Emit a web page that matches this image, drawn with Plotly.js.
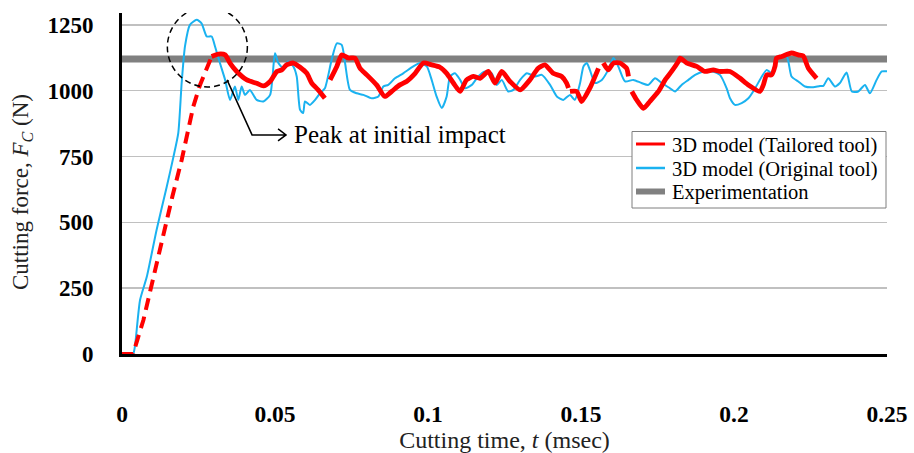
<!DOCTYPE html>
<html><head><meta charset="utf-8">
<script src="https://cdn.plot.ly/plotly-3.0.1.min.js"></script>
<style>html,body{margin:0;padding:0;background:#fff}#chart{width:914px;height:453px}</style>
</head><body><div id="chart"></div>
<script>
// Tailored tool: initial ramp (dashed)
const rampTime  = [0, 0.0036, 0.0070, 0.0108, 0.0135, 0.0165, 0.0195, 0.0233, 0.0255, 0.0282, 0.0293];
const rampForce = [0, 0, 129, 319, 460, 600, 737, 940, 1022, 1105, 1130];

// Tailored tool: solid part (null = gap)
const tailoredTime = [0.0293,0.0315,0.0337,0.0353,0.0375,0.0408,0.0440,0.0462,0.0484,0.0506,0.0522,0.0538,0.0560,0.0582,0.0604,0.0620,0.0641,0.0663,0.0670,
  0.0680,0.0702,0.0718,0.0740,0.0761,0.0778,0.0800,0.0832,0.0859,0.0881,0.0908,0.0930,0.0958,0.0985,0.1012,0.1039,0.1061,0.1083,0.1105,0.1126,0.1148,0.1170,0.1197,0.1219,0.1241,0.1268,0.1301,0.1333,0.1360,0.1382,0.1409,0.1437,0.1453,0.1459,0.1462,
  0.1464,0.1486,0.1502,0.1529,0.1557,0.1565,
  0.1573,0.1589,0.1606,0.1627,0.1649,0.1655,0.1660,
  0.1666,0.1682,0.1704,0.1725,0.1753,0.1775,0.1796,0.1818,0.1824,0.1846,0.1878,0.1905,0.1932,0.1954,0.1987,0.2020,0.2047,0.2085,0.2096,0.2107,0.2123,0.2134,0.2139,0.2156,0.2188,0.2210,0.2226,0.2243,0.2270];
const tailoredForce = [1130,1139,1136,1105,1073,1041,1028,1018,1035,1073,1079,1098,1105,1089,1066,1029,1003,971,null,
  1041,1092,1136,1124,1124,1085,1060,1022,978,997,1022,1035,1066,1105,1098,1089,1066,1029,997,1041,1054,1047,1073,1029,1073,1035,1003,1041,1085,1098,1066,1054,1029,1010,null,
  997,997,959,1010,1085,null,
  1105,1079,1105,1105,1085,1054,null,
  997,965,933,959,997,1041,1073,1111,1124,1105,1092,1073,1079,1073,1073,1047,1022,997,1022,1060,1060,1092,1124,1130,1143,1136,1132,1085,1047];

// Original tool
const originalTime = [0,0.0036,0.0042,0.0059,0.0081,0.0113,0.0146,0.0168,0.0184,0.0195,0.0206,0.0222,0.0244,0.0260,0.0277,0.0293,0.0304,0.0320,0.0337,0.0353,0.0369,0.0380,0.0391,0.0402,0.0418,0.0440,0.0462,0.0484,0.0500,0.0511,0.0527,0.0543,0.0560,0.0571,0.0582,0.0592,0.0598,0.0614,0.0631,0.0647,0.0663,0.0685,0.0702,0.0718,0.0729,0.0745,0.0767,0.0789,0.0816,0.0838,0.0854,0.0870,0.0892,0.0919,0.0952,0.0974,0.0996,0.1012,0.1028,0.1045,0.1061,0.1072,0.1088,0.1105,0.1121,0.1143,0.1164,0.1186,0.1208,0.1225,0.1241,0.1262,0.1279,0.1301,0.1323,0.1350,0.1372,0.1399,0.1421,0.1442,0.1464,0.1480,0.1497,0.1508,0.1519,0.1529,0.1546,0.1568,0.1589,0.1606,0.1622,0.1644,0.1671,0.1698,0.1720,0.1742,0.1764,0.1791,0.1807,0.1829,0.1851,0.1873,0.1900,0.1927,0.1954,0.1976,0.1987,0.2003,0.2025,0.2047,0.2069,0.2091,0.2107,0.2123,0.2140,0.2172,0.2188,0.2210,0.2232,0.2259,0.2281,0.2292,0.2308,0.2330,0.2346,0.2368,0.2385,0.2406,0.2428,0.2444,0.2466,0.2483,0.2504];
const originalForce = [0,0,27,205,293,471,634,748,840,1030,1170,1250,1269,1256,1206,1206,1168,1105,1041,965,1016,965,1016,984,1003,965,959,984,1142,1105,1085,1111,1092,1054,927,915,959,946,965,990,1009,1117,1180,1174,1105,1003,990,984,971,978,1016,1022,1047,1066,1092,1105,1092,1041,978,934,978,1054,1066,1041,1009,1022,1054,1073,1066,1022,1041,997,1003,1041,1066,1054,1060,1022,978,965,984,965,1029,1092,1105,1079,1029,1041,1079,1124,1092,1035,1041,1029,1022,1047,1029,1009,997,1022,1041,1060,1073,1073,1060,1009,971,946,953,971,1009,1054,1079,1066,1124,1130,1054,1035,1016,1013,1018,1018,1047,1016,1029,1069,997,997,1022,990,1041,1073,1073];

// Experimentation
const expTime  = [0, 0.25];
const expForce = [1120, 1120];

const seriesNames = ['3D model (Tailored tool)', '3D model (Original tool)', 'Experimentation'];
const xTickVals = [0, 0.05, 0.1, 0.15, 0.2, 0.25];
const xTickText = ['0', '0.05', '0.1', '0.15', '0.2', '0.25'];
const yTickVals = [0, 250, 500, 750, 1000, 1250];
const yTickText = ['0', '250', '500', '750', '1000', '1250'];

const serif = '"Liberation Serif", "Times New Roman", Times, serif';
const RED = '#FF0000', BLUE = '#1AB2F0', GRAY = '#808080';

const traces = [
  {x: expTime, y: expForce, mode: 'lines', name: seriesNames[2], showlegend: false,
   line: {color: GRAY, width: 7}},
  {x: originalTime, y: originalForce, mode: 'lines', name: seriesNames[1], showlegend: false,
   line: {color: BLUE, width: 2, shape: 'spline', smoothing: 0.6}},
  {x: rampTime, y: rampForce, mode: 'lines', name: seriesNames[0], showlegend: false,
   line: {color: RED, width: 4, dash: '12px,7px'}},
  {x: tailoredTime, y: tailoredForce, mode: 'lines', name: seriesNames[0], showlegend: false,
   connectgaps: false, line: {color: RED, width: 4.8, shape: 'spline', smoothing: 0.6}}
];

// legend box (drawn manually to match the compact row spacing)
const W = 765, H = 341, L = 122, T = 13;
const px = v => (v - L) / W;
const py = v => (T + H - v) / H;
const legendRows = [144, 168, 191.5];
const legendColors = [RED, BLUE, GRAY];
const legendWidths = [3, 2.5, 6];

const shapes = [
  {type: 'circle', xref: 'x', yref: 'y', xsizemode: 'pixel', ysizemode: 'pixel',
   xanchor: 0.0279, yanchor: 1166, x0: -40, x1: 40, y0: -40, y1: 40,
   line: {color: '#000', width: 1.5, dash: '6px,4px'}},
  {type: 'path', xref: 'x', yref: 'y', xsizemode: 'pixel', ysizemode: 'pixel',
   xanchor: 0.0425, yanchor: 832,
   path: 'M-25,55 L0,0 L34,0 M26,6 L34,0 L26,-6',
   line: {color: '#000', width: 1.5}},
  {type: 'rect', xref: 'paper', yref: 'paper', x0: px(632), x1: px(886), y0: py(208), y1: py(131.5),
   fillcolor: '#fff', line: {color: '#7F7F7F', width: 1}, layer: 'above'}
];
const annotations = [
  {x: 0.0557, y: 832, xref: 'x', yref: 'y', xanchor: 'left', yanchor: 'middle',
   text: 'Peak at initial impact', showarrow: false,
   font: {family: serif, size: 25, color: '#000'}},
  {x: px(22), y: py(192), xref: 'paper', yref: 'paper', textangle: -90,
   xanchor: 'center', yanchor: 'middle', showarrow: false,
   text: 'Cutting force, <i>F</i><sub><i>C</i></sub> (N)',
   font: {family: serif, size: 23, color: '#222'}}
];
legendRows.forEach((ry, i) => {
  shapes.push({type: 'line', xref: 'paper', yref: 'paper', x0: px(636), x1: px(665), y0: py(ry), y1: py(ry),
    line: {color: legendColors[i], width: legendWidths[i]}, layer: 'above'});
  annotations.push({x: px(670), y: py(ry + 1), xref: 'paper', yref: 'paper', xanchor: 'left', yanchor: 'middle',
    showarrow: false, text: seriesNames[i], font: {family: serif, size: 20.5, color: '#000'}});
});

const layout = {
  width: 914, height: 453,
  margin: {l: L, r: 914 - L - W, t: T, b: 453 - T - H},
  paper_bgcolor: '#fff', plot_bgcolor: '#fff',
  font: {family: serif, color: '#000'},
  showlegend: false,
  xaxis: {range: [0, 0.25], tickvals: xTickVals, ticktext: xTickText,
    showgrid: false, zeroline: false, showline: true, linecolor: '#000', linewidth: 3,
    ticks: '', ticklabelstandoff: 37,
    tickfont: {family: serif, size: 23.5, color: '#000', weight: 'bold'},
    title: {text: 'Cutting time, <i>t</i> (msec)', standoff: 6, font: {family: serif, size: 24, color: '#222'}}},
  yaxis: {range: [0, 1295], tickvals: yTickVals, ticktext: yTickText,
    showgrid: true, gridcolor: '#C0C0C0', gridwidth: 1.5, zeroline: false,
    showline: true, linecolor: '#000', linewidth: 3,
    ticks: '', ticklabelstandoff: 21,
    tickfont: {family: serif, size: 23, color: '#000', weight: 'bold'}},
  shapes: shapes,
  annotations: annotations
};

Plotly.newPlot('chart', traces, layout, {displayModeBar: false, staticPlot: true});
</script></body></html>
